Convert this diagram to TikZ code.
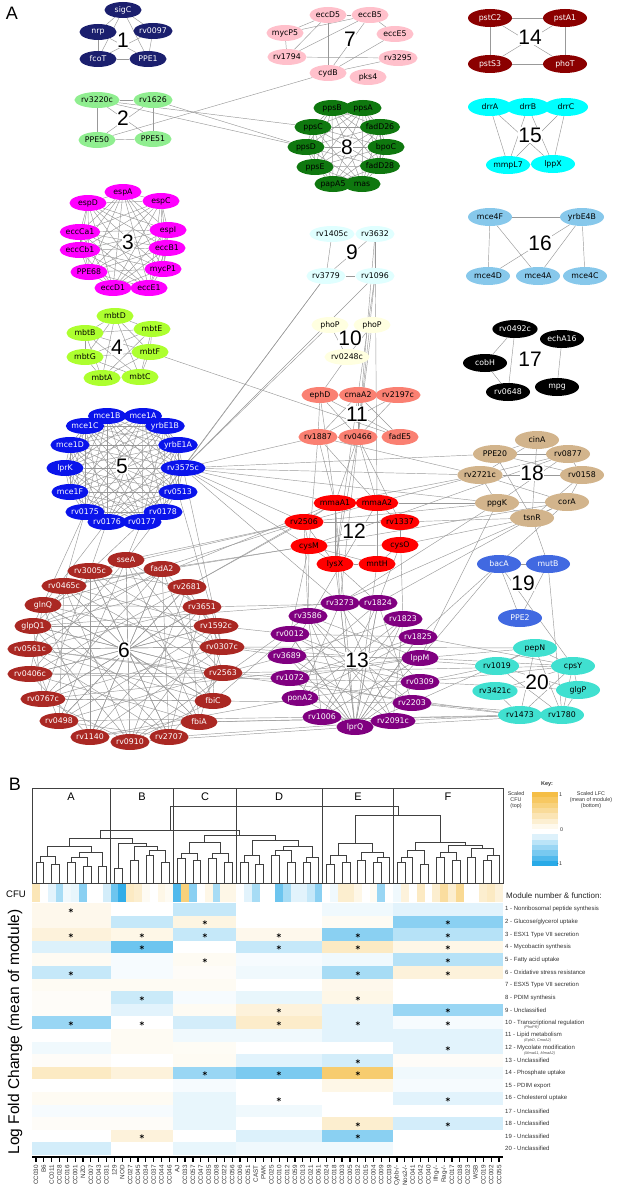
\documentclass[tikz,border=0pt]{standalone}
\usepackage{fontspec}
\setmainfont{Liberation Sans}
\newfontfamily\netfont{DejaVu Sans}
\usetikzlibrary{shapes.geometric,positioning}

\definecolor{cnavy}{RGB}{27,31,110}
\definecolor{clgreen}{RGB}{144,238,144}
\definecolor{cmagenta}{RGB}{255,0,255}
\definecolor{cygreen}{RGB}{173,255,47}
\definecolor{cblue}{RGB}{10,20,235}
\definecolor{cbrick}{RGB}{170,40,35}
\definecolor{cpink}{RGB}{255,192,203}
\definecolor{cgreen}{RGB}{15,120,15}
\definecolor{clcyan}{RGB}{224,255,255}
\definecolor{clyellow}{RGB}{255,255,224}
\definecolor{csalmon}{RGB}{250,128,114}
\definecolor{cred}{RGB}{255,0,0}
\definecolor{cpurple}{RGB}{128,0,128}
\definecolor{cdarkred}{RGB}{139,0,0}
\definecolor{ccyan}{RGB}{0,255,255}
\definecolor{csky}{RGB}{135,200,235}
\definecolor{ctan}{RGB}{210,180,140}
\definecolor{croyal}{RGB}{65,105,225}
\definecolor{cturq}{RGB}{64,224,208}
\definecolor{hmo}{RGB}{245,190,70}
\definecolor{hmb}{RGB}{30,165,230}

\pgfdeclarelayer{back}
\pgfsetlayers{back,main}

% dendrogram link: left x, left y, right x, right y, top y
\newcommand{\dlink}[5]{\draw[tree] (#1,#2) |- (#3,#5) -- (#3,#4);}

\tikzset{
  gene/.style={ellipse, inner sep=0pt, minimum width=37pt, minimum height=16pt,
    font=\netfont\fontsize{7.8}{8}\selectfont},
  darkgene/.style={gene, text=white},
  wide/.style={minimum width=44pt, minimum height=18pt},
  m1/.style={darkgene, fill=cnavy},
  m2/.style={gene, fill=clgreen},
  m3/.style={gene, fill=cmagenta},
  m4/.style={gene, fill=cygreen},
  m5/.style={darkgene, fill=cblue},
  m6/.style={darkgene, fill=cbrick},
  m7/.style={gene, fill=cpink},
  m8/.style={gene, fill=cgreen},
  m9/.style={gene, fill=clcyan},
  m10/.style={gene, fill=clyellow},
  m11/.style={gene, fill=csalmon},
  m12/.style={gene, fill=cred},
  m13/.style={darkgene, fill=cpurple},
  m14/.style={darkgene, wide, fill=cdarkred},
  m15/.style={gene, wide, fill=ccyan},
  m16/.style={gene, wide, fill=csky},
  m17/.style={darkgene, wide, fill=black},
  m18/.style={gene, wide, fill=ctan},
  m19/.style={darkgene, wide, fill=croyal},
  m20/.style={gene, wide, fill=cturq},
  modnum/.style={font=\fontsize{21}{21}\selectfont, fill=white, inner sep=0.5pt},
  panel/.style={font=\fontsize{18}{18}\selectfont},
  wire/.style={draw=gray!80, line width=0.45pt},
  tree/.style={draw=black!75, line width=0.6pt},
  grp/.style={font=\fontsize{11}{11}\selectfont},
  hstar/.style={inner sep=0pt, yshift=-2pt, font=\netfont\bfseries\fontsize{9}{9}\selectfont},
  fn/.style={anchor=west, inner sep=0pt, text=black!80, font=\fontsize{6}{6}\selectfont},
  fnsub/.style={anchor=west, inner sep=0pt, text=black!70, font=\itshape\fontsize{3.8}{4}\selectfont},
  strain/.style={rotate=90, anchor=east, inner sep=0pt, text=black!80, font=\fontsize{6.3}{6.3}\selectfont},
  keytext/.style={inner sep=0pt, align=center, text=black!80, font=\fontsize{5.4}{5.8}\selectfont}
}

\begin{document}
\begin{tikzpicture}[x=1pt, y=-1pt]
\useasboundingbox (0,0) rectangle (617,1188);

%% ---------------- panel A ----------------
\node[panel] (pA) at (12,13) {A};

% module numbers
\foreach \n/\x/\y in {1/123/40, 2/123/118, 3/128/242, 4/117/347, 5/122/466,
  6/124/650, 7/350/39, 8/347/147, 9/352/252, 10/350/338, 11/357/414,
  12/354/531, 13/357/660, 14/530/37, 15/530/135, 16/540/243, 17/530/359,
  18/532/473, 19/523/583, 20/537/682}
  \node[modnum] (l\n) at (\x,\y) {\n};

% genes
\foreach \n/\x/\y in {sigC/123/10, rv0097/153/31, PPE1/148/59, fcoT/98/59, nrp/98/32}
  \node[m1] (\n) at (\x,\y) {\n};
\foreach \n/\x/\y in {rv3220c/97/100, rv1626/153/100, PPE51/153/139, PPE50/97/140}
  \node[m2] (\n) at (\x,\y) {\n};
\foreach \n/\x/\y [count=\i] in {espA/123/192, espC/161/201, espI/168/230, eccB1/167/248,
  mycP1/163/269, eccE1/149/288, eccD1/113/288, PPE68/89/272, eccCb1/80/250,
  eccCa1/80/232, espD/88/203}
  \node[m3, alias=three\i] (\n) at (\x,\y) {\n};
\foreach \n/\x/\y [count=\i] in {mbtD/115/316, mbtE/152/329, mbtF/150/352, mbtC/140/377,
  mbtA/102/378, mbtG/85/357, mbtB/85/333}
  \node[m4, alias=four\i] (\n) at (\x,\y) {\n};
\foreach \n/\x/\y [count=\i] in {mce1B/107/416, mce1A/143/416, yrbE1B/165/426,
  yrbE1A/178/445, rv3575c/183/468, rv0513/178/492, rv0178/163/512, rv0177/142/522,
  rv0176/107/522, rv0175/85/512, mce1F/70/492, lprK/65/468, mce1D/70/445, mce1C/85/426}
  \node[m5, alias=five\i] (\n) at (\x,\y) {\n};
\foreach \n/\x/\y [count=\i] in {sseA/126/560, fadA2/162/569, rv2681/187/587,
  rv3651/202/607, rv1592c/216/626, rv0307c/222/647, rv2563/223/673, fbiC/213/701,
  fbiA/199/722, rv2707/169/737, rv0910/130/742, rv1140/90/737, rv0498/59/721,
  rv0767c/43/699, rv0406c/30/674, rv0561c/30/649, glpQ1/33/626, glnQ/43/605,
  rv0465c/64/586, rv3005c/90/571}
  \node[m6, alias=six\i] (\n) at (\x,\y) {\n};
\foreach \n/\x/\y in {eccD5/328/15, eccB5/370/15, eccE5/395/34, rv3295/398/58,
  pks4/368/77, cydB/328/73, rv1794/287/57, mycP5/285/33}
  \node[m7] (\n) at (\x,\y) {\n};
\foreach \n/\x/\y [count=\i] in {ppsB/332/108, ppsA/363/108, fadD26/380/127,
  bpoC/386/147, fadD28/380/166, mas/362/184, papA5/333/184, ppsE/315/167,
  ppsD/306/147, ppsC/313/127}
  \node[m8, alias=eight\i] (\n) at (\x,\y) {\n};
\foreach \n/\x/\y in {rv1405c/332/234, rv3632/375/234, rv1096/375/276, rv3779/326/276}
  \node[m9] (\n) at (\x,\y) {\n};
\node[m10] (phoPa) at (330,325) {phoP};
\node[m10] (phoPb) at (372,325) {phoP};
\node[m10] (rv0248c) at (347,357) {rv0248c};
\foreach \n/\x/\y in {ephD/320/395, cmaA2/358/395, rv2197c/398/395, fadE5/400/437,
  rv0466/358/437, rv1887/318/437}
  \node[m11] (\n) at (\x,\y) {\n};
\foreach \n/\x/\y in {mmaA1/335/503, mmaA2/377/503, rv1337/400/522, cysO/400/545,
  mntH/377/564, lysX/335/564, cysM/309/546, rv2506/304/522}
  \node[m12] (\n) at (\x,\y) {\n};
\foreach \n/\x/\y [count=\i] in {rv3273/340/603, rv1824/378/603, rv1823/403/619,
  rv1825/418/637, lppM/420/658, rv0309/420/682, rv2203/412/703, rv2091c/393/721,
  lprQ/355/727, rv1006/322/717, ponA2/300/698, rv1072/290/678, rv3689/287/656,
  rv0012/290/634, rv3586/308/616}
  \node[m13, alias=thirteen\i] (\n) at (\x,\y) {\n};
\foreach \n/\x/\y in {pstC2/490/18, pstA1/565/18, phoT/565/64, pstS3/490/64}
  \node[m14] (\n) at (\x,\y) {\n};
\foreach \n/\x/\y in {drrA/490/107, drrB/528/107, drrC/566/107, lppX/553/164, mmpL7/508/165}
  \node[m15] (\n) at (\x,\y) {\n};
\foreach \n/\x/\y in {mce4F/490/217, yrbE4B/582/217, mce4C/585/276, mce4A/538/276, mce4D/488/276}
  \node[m16] (\n) at (\x,\y) {\n};
\foreach \n/\x/\y in {rv0492c/515/329, echA16/562/339, mpg/557/387, rv0648/508/392, cobH/485/363}
  \node[m17] (\n) at (\x,\y) {\n};
\foreach \n/\x/\y in {cinA/537/440, PPE20/495/454, rv0877/568/454, rv0158/582/475,
  corA/567/502, tsnR/532/518, ppgK/497/503, rv2721c/480/475}
  \node[m18] (\n) at (\x,\y) {\n};
\foreach \n/\x/\y in {bacA/499/564, mutB/548/564, PPE2/520/618}
  \node[m19] (\n) at (\x,\y) {\n};
\foreach \n/\x/\y in {pepN/535/648, cpsY/573/666, glgP/578/690, rv1780/562/715,
  rv1473/520/715, rv3421c/495/691, rv1019/497/666}
  \node[m20] (\n) at (\x,\y) {\n};

\begin{pgfonlayer}{back}
  % dense modules
  \foreach \i in {1,...,11} \foreach \j in {1,...,11}
    {\ifnum\i<\j \draw[wire] (three\i) -- (three\j);\fi}
  \foreach \i in {1,...,7} \foreach \j in {1,...,7}
    {\ifnum\i<\j \draw[wire] (four\i) -- (four\j);\fi}
  \foreach \i in {1,...,14} \foreach \j in {1,...,14}
    {\ifnum\i<\j \draw[wire] (five\i) -- (five\j);\fi}
  \foreach \i in {1,...,10} \foreach \j in {1,...,10}
    {\ifnum\i<\j \draw[wire] (eight\i) -- (eight\j);\fi}
  \foreach \i in {1,...,20} \foreach \k in {3,6,8,10}
    {\pgfmathtruncatemacro\j{mod(\i+\k-1,20)+1}
     \draw[wire] (six\i) -- (six\j);}
  \foreach \i in {1,...,15} \foreach \k in {5,7}
    {\pgfmathtruncatemacro\j{mod(\i+\k-1,15)+1}
     \draw[wire] (thirteen\i) -- (thirteen\j);}
  % sparse modules and links between modules
  \foreach \a/\b in {sigC/nrp, sigC/rv0097, sigC/fcoT, sigC/PPE1, nrp/fcoT, nrp/PPE1,
    rv0097/PPE1, rv0097/fcoT, fcoT/PPE1,
    rv3220c/rv1626, rv3220c/PPE50, rv3220c/PPE51, rv1626/PPE50, rv1626/PPE51, PPE50/PPE51,
    rv3220c/ppsC, rv3220c/ppsD, rv1626/ppsD, PPE50/cydB,
    eccD5/eccB5, eccD5/mycP5, eccD5/cydB, eccD5/rv1794, eccB5/mycP5, eccB5/eccE5,
    eccB5/cydB, eccB5/rv1794, eccE5/cydB, rv3295/cydB, rv3295/rv1794, mycP5/rv1794,
    pstC2/pstA1, pstC2/pstS3, pstC2/phoT, pstA1/phoT, pstA1/pstS3, pstS3/phoT,
    drrA/drrB, drrB/drrC, drrA/mmpL7, drrA/lppX, drrB/mmpL7, drrB/lppX, drrC/mmpL7,
    drrC/lppX, mmpL7/lppX,
    mce4F/yrbE4B, mce4F/mce4D, mce4F/mce4A, yrbE4B/mce4D, yrbE4B/mce4A, yrbE4B/mce4C,
    rv0492c/cobH, rv0492c/rv0648, cobH/rv0648, echA16/mpg,
    rv1405c/rv3779, rv3779/rv1096, rv3632/rv1096, rv3632/rv3779,
    phoPa/rv0248c, phoPb/rv0248c,
    rv3632/mmaA2, rv1096/cmaA2, rv1096/rv0466, rv1096/rv3575c, rv3779/rv3575c,
    rv3779/rv0177, phoPa/rv3575c, phoPb/rv0466, rv0248c/ephD, rv3632/rv0466,
    mbtF/fadE5,
    ephD/rv1887, ephD/rv0466, ephD/fadE5, cmaA2/rv1887, cmaA2/rv0466, cmaA2/fadE5,
    rv2197c/rv0466, rv2197c/rv1887, rv1887/rv0466,
    ephD/mmaA1, rv1887/mmaA1, rv1887/mmaA2, rv1887/cysM, rv0466/mmaA1, rv0466/mmaA2,
    rv0466/lysX, rv0466/rv1337, cmaA2/lysX, rv0466/rv3273,
    mmaA1/mmaA2, mmaA1/rv2506, mmaA1/lysX, mmaA2/rv1337, mmaA2/mntH, rv2506/cysM,
    rv2506/lysX, rv1337/cysO, cysM/lysX, cysO/mntH, cysM/mntH, rv2506/rv1337,
    cysM/cysO, lysX/mntH,
    mmaA1/rv3273, lysX/rv3273, lysX/rv1824, rv2506/rv3586, cysM/rv0012, cysM/rv3586,
    mntH/lprQ, cysO/rv1824, rv1337/rv1823, mmaA2/rv3689, mmaA1/lprQ,
    rv3575c/PPE20, rv3575c/rv2721c, rv3575c/rv1887, rv3575c/mmaA1, rv3575c/rv2506,
    rv3575c/cysM, rv3575c/ppgK, rv3575c/rv0307c, rv3575c/rv3273,
    rv0175/glpQ1, rv0175/rv0465c, rv0176/rv3005c, rv0176/glnQ, rv0177/sseA,
    rv0177/rv3005c, rv0178/sseA, rv0513/rv0307c,
    sseA/rv2506, fadA2/cysM, rv3005c/rv2506, rv0465c/cysM, glnQ/rv2506, glpQ1/rv3273,
    glpQ1/mmaA1, rv2681/rv2506, rv2681/mmaA1, rv3651/rv1824, rv1592c/rv0012,
    rv0307c/rv3689, rv0307c/pepN, rv0307c/rv1019, rv0561c/rv2563, rv0561c/rv1473,
    rv0406c/rv0309, rv0767c/fbiC, rv0767c/lppM, rv2563/rv1072, rv2563/cpsY,
    fbiC/rv2203, fbiA/rv1473, fbiA/rv1780, rv2707/rv2091c, rv0910/lprQ, rv1140/ponA2,
    rv0498/rv1006, rv0910/rv3586, fbiC/rv0012, rv2563/rv3689,
    lprQ/rv3273, lprQ/rv3586, lprQ/rv0012, lprQ/rv3689, lprQ/rv1072, lprQ/ponA2,
    lprQ/rv1824, lprQ/rv1823, lprQ/rv1825, lprQ/lppM, lprQ/rv0309, lprQ/rv2203,
    lppM/pepN, lppM/cpsY, rv0309/rv1019, rv0309/cpsY, rv2203/rv1473, rv2203/rv1780,
    rv2091c/rv1473, lprQ/rv1780, rv1825/cpsY, rv0309/glgP, rv2203/pepN,
    PPE20/cinA, PPE20/rv0877, PPE20/rv0158, PPE20/tsnR, cinA/rv0877, cinA/tsnR,
    cinA/rv2721c, rv0877/rv0158, rv0877/rv2721c, rv0877/ppgK, rv2721c/rv0158,
    rv2721c/ppgK, rv2721c/corA, rv0158/corA, rv0158/tsnR, ppgK/corA, ppgK/tsnR,
    tsnR/corA,
    ppgK/rv2506, ppgK/mmaA2, rv2721c/mmaA1, rv2721c/rv1887, tsnR/rv1337, tsnR/cysO,
    corA/cysM, corA/rv1825, tsnR/rv1824, ppgK/rv3273, ppgK/lppM, tsnR/mutB,
    rv0877/cysM, rv2721c/rv2506, corA/rv3586,
    bacA/mutB, bacA/PPE2, mutB/PPE2, bacA/lppM, mutB/rv1780, bacA/cpsY,
    pepN/rv1019, pepN/cpsY, pepN/rv1473, pepN/rv1780, cpsY/glgP, cpsY/rv1473,
    cpsY/rv1780, rv1019/rv1780, rv3421c/rv1473, glgP/rv1780, rv1473/rv1780,
    rv3421c/cpsY, rv1019/glgP}
    \draw[wire] (\a) -- (\b);
\end{pgfonlayer}

%% ---------------- panel B ----------------
\node[panel] (pB) at (15,784) {B};

% dendrogram box and groups
\draw[tree] (32,788) rectangle (503,883);
\foreach \x in {110.5,173.3,236.1,322.45,393.1}
  \draw[tree] (\x,788) -- (\x,883);
\foreach \g/\x in {A/71, B/142, C/205, D/279, E/358, F/448}
  \node[grp] (g\g) at (\x,797) {\g};

\begin{scope}[xshift=28.075pt, x=7.85pt]
  % A
  \dlink{1}{883}{2}{883}{862} \dlink{3}{883}{4}{883}{864} \dlink{1.5}{862}{3.5}{864}{856}
  \dlink{5}{883}{6}{883}{862} \dlink{7}{883}{8}{883}{866} \dlink{5.5}{862}{7.5}{866}{857}
  \dlink{9}{883}{10}{883}{866} \dlink{6.5}{857}{9.5}{866}{852} \dlink{2.5}{856}{8}{852}{846}
  % B
  \dlink{11}{883}{12}{883}{868} \dlink{13}{883}{14}{883}{860} \dlink{15}{883}{16}{883}{855}
  \dlink{17}{883}{18}{883}{862} \dlink{15.5}{855}{17.5}{862}{850} \dlink{13.5}{860}{16.5}{850}{846}
  \dlink{11.5}{868}{15}{846}{843}
  \dlink{5.25}{846}{13.25}{843}{838}
  % C
  \dlink{19}{883}{20}{883}{858} \dlink{21}{883}{22}{883}{860} \dlink{19.5}{858}{21.5}{860}{853}
  \dlink{23}{883}{24}{883}{858} \dlink{25}{883}{26}{883}{862} \dlink{23.5}{858}{25.5}{862}{853}
  \dlink{20.5}{853}{24.5}{853}{842}
  % D
  \dlink{27}{883}{28}{883}{862} \dlink{29}{883}{30}{883}{864} \dlink{27.5}{862}{29.5}{864}{855}
  \dlink{31}{883}{32}{883}{855} \dlink{33}{883}{34}{883}{862} \dlink{31.5}{855}{33.5}{862}{850}
  \dlink{35}{883}{36}{883}{862} \dlink{35.5}{862}{37}{883}{857} \dlink{32.5}{850}{36.25}{857}{846}
  \dlink{28.5}{855}{34.375}{846}{840}
  \dlink{22.5}{842}{31.44}{840}{835}
  \dlink{9.25}{838}{26.97}{835}{830}
  % E
  \dlink{38}{883}{39}{883}{864} \dlink{40}{883}{41}{883}{862} \dlink{38.5}{864}{40.5}{862}{855}
  \dlink{42}{883}{43}{883}{860} \dlink{44}{883}{45}{883}{862} \dlink{44.5}{862}{46}{883}{857}
  \dlink{42.5}{860}{45.25}{857}{852} \dlink{39.5}{855}{43.875}{852}{843}
  % F
  \dlink{47}{883}{48}{883}{862} \dlink{47.5}{862}{49}{883}{857} \dlink{50}{883}{51}{883}{864}
  \dlink{48.25}{857}{50.5}{864}{850} \dlink{52}{883}{53}{883}{857} \dlink{54}{883}{55}{883}{860}
  \dlink{52.5}{857}{54.5}{860}{852} \dlink{56}{883}{57}{883}{857} \dlink{58}{883}{59}{883}{860}
  \dlink{58.5}{860}{60}{883}{855} \dlink{56.5}{857}{59.25}{855}{848}
  \dlink{53.5}{852}{57.875}{848}{845} \dlink{49.375}{850}{55.69}{845}{842}
  \dlink{41.69}{843}{52.53}{842}{815}
  % root
  \dlink{18.11}{830}{47.11}{815}{806}
\end{scope}

% CFU row
\node[font=\fontsize{9.5}{9.5}\selectfont] (cfu) at (16,894) {CFU};
\foreach \v [count=\i] in {30,0,-10,-30,-5,-8,-40,0,0,-15,-50,-70,25,20,5,0,10,5,-60,55,
  -40,0,10,-30,10,10,0,-10,-30,0,0,-50,-30,-10,-10,-20,-40,0,-5,20,
  20,10,0,5,-35,0,-5,15,0,25,0,20,40,20,45,0,0,20,25,15}{
  \pgfmathsetmacro\pc{min(100,1.3*abs(\v))}
  \ifdim\v pt<0pt \def\hc{hmb}\else\def\hc{hmo}\fi
  \fill[\hc!\pc!white] ({32+(\i-1)*7.85},884) rectangle ({32+\i*7.85},902);
}

% module heat map
\foreach \vals [count=\r] in {{8,0,-20,0,-5,-10},{8,-20,12,0,5,-40},{15,10,-20,8,-40,-25},
  {-12,-50,0,-20,25,10},{5,-3,5,-3,-5,-25},{-20,-3,3,-5,-30,15},{5,5,5,0,8,0},
  {3,-18,-3,-8,10,0},{3,-10,5,15,-10,-35},{-35,0,-15,22,-10,-3},{0,5,-5,-5,-10,-10},
  {-5,5,4,0,0,-10},{3,0,5,-10,-15,3},{25,15,-35,-45,60,-5},{0,0,-3,0,10,-3},
  {5,5,-8,0,0,-10},{-3,-3,-8,-5,0,0},{3,3,-8,0,20,-15},{0,15,0,-12,-40,0},
  {-15,0,-8,-5,-5,0}}{
  \foreach \v [count=\g] in \vals {
    \pgfmathsetmacro\xa{{32,110.5,173.3,236.1,322.45,393.1,503}[\g-1]}
    \pgfmathsetmacro\xb{{32,110.5,173.3,236.1,322.45,393.1,503}[\g]}
    \pgfmathsetmacro\ya{903+(\r-1)*12.6}
    \pgfmathsetmacro\pc{min(100,1.3*abs(\v))}
    \ifdim\v pt<0pt \def\hc{hmb}\else\def\hc{hmo}\fi
    \fill[\hc!\pc!white] (\xa,\ya) rectangle (\xb,\ya+12.6);
  }
}
\foreach \r/\g in {1/1, 2/3, 2/6, 3/1, 3/2, 3/3, 3/4, 3/5, 3/6, 4/2, 4/4, 4/5, 4/6,
  5/3, 5/6, 6/1, 6/5, 6/6, 8/2, 8/5, 9/4, 9/6, 10/1, 10/2, 10/4, 10/5, 10/6, 12/6,
  13/5, 14/3, 14/4, 14/5, 16/4, 16/6, 18/5, 18/6, 19/2, 19/5}{
  \pgfmathsetmacro\sx{{71,142,205,279,358,448}[\g-1]}
  \node[hstar] (st\r-\g) at (\sx,{909.8+(\r-1)*12.6}) {*};
}

\node[rotate=90, font=\fontsize{15.5}{15.5}\selectfont] (ylab) at (15,1032)
  {Log Fold Change (mean of module)};

% strain axis
\draw[line width=1.4pt] (32,1157) -- (503,1157);
\foreach \i in {1,...,60}
  \draw[line width=1.2pt] ({28.075+7.85*\i},1157) -- ++(0,5);
\foreach \s [count=\i] in {CC030,B6,CC011,CC028,CC016,CC001,NZO,CC007,CC043,CC031,
  129,NOD,CC027,CC045,CC034,CC037,CC044,CC046,AJ,CC033,CC057,CC047,CC035,CC008,
  CC022,CC056,CC006,CC051,CAST,PWK,CC025,CC010,CC012,CC059,CC013,CC021,CC061,
  CC024,CC018,CC003,CC005,CC032,CC015,CC004,CC009,CC039,Cybb-/-,Nos2-/-,CC041,
  CC042,CC040,Ifng-/-,Rag-/-,CC017,CC038,CC023,WSB,CC019,CC002,CC055}
  \node[strain] (n\i) at ({28.075+7.85*\i},1165) {\s};

% key
\node[keytext, font=\bfseries\fontsize{5.5}{5.5}\selectfont] (key) at (547,784) {Key:};
\foreach \c [count=\k] in {hmo!100!white, hmo!85!white, hmo!70!white, hmo!55!white,
  hmo!40!white, hmo!25!white, hmo!10!white, white, hmb!15!white, hmb!30!white,
  hmb!45!white, hmb!60!white, hmb!78!white, hmb!95!white}
  \fill[\c] (532,{792+(\k-1)*5.3}) rectangle (558,{792+\k*5.3});
\node[keytext, anchor=west] (k1) at (559,795) {1};
\node[keytext, anchor=west] (k0) at (560,830) {0};
\node[keytext, anchor=west] (km) at (557,864) {-1};
\node[keytext] (kcfu) at (516,800) {Scaled\\CFU\\(top)};
\node[keytext] (klfc) at (591,800) {Scaled LFC\\(mean of module)\\(bottom)};

% module functions
\node[anchor=west, inner sep=0pt, text=black!85, font=\fontsize{8}{8}\selectfont] (mtitle)
  at (506,896) {Module number \& function:};
\foreach \t [count=\r] in {1 - Nonribosomal peptide synthesis, 2 - Glucose/glycerol uptake,
  3 - ESX1 Type VII secretion, 4 - Mycobactin synthesis, 5 - Fatty acid uptake,
  6 - Oxidative stress resistance, 7 - ESX5 Type VII secretion, 8 - PDIM synthesis,
  9 - Unclassified, 10 - Transcriptional regulation, 11 - Lipid metabolism,
  12 - Mycolate modification, 13 - Unclassified, 14 - Phosphate uptake,
  15 - PDIM export, 16 - Cholesterol uptake, 17 - Unclassified, 18 - Unclassified,
  19 - Unclassified, 20 - Unclassified}
  \node[fn] (f\r) at (505,{909.3+(\r-1)*12.6}) {\t};
\node[fnsub] (s10) at (524,1028) {(PhoPR)};
\node[fnsub] (s11) at (524,1041) {(EphD, CmaA2)};
\node[fnsub] (s12) at (524,1053.5) {(MmaA1, MmaA2)};
\end{tikzpicture}
\end{document}
